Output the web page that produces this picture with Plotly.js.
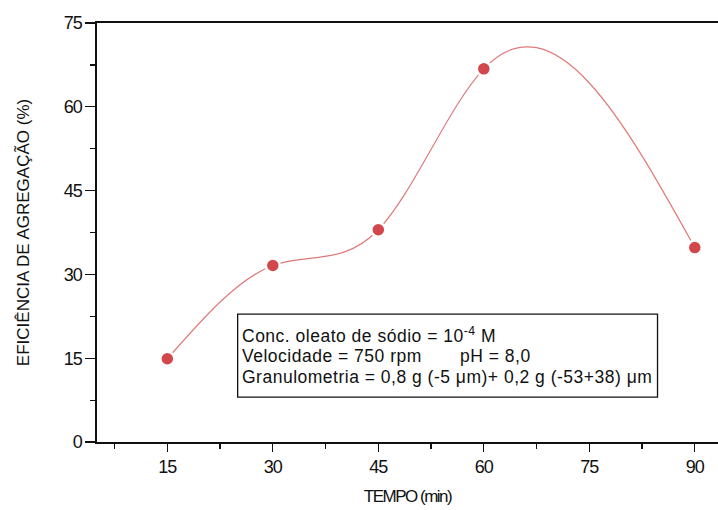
<!DOCTYPE html>
<html>
<head>
<meta charset="utf-8">
<script src="https://cdn.plot.ly/plotly-3.0.1.min.js"></script>
<style>
html,body{margin:0;padding:0;background:#fff;}
#chart{width:718px;height:510px;}
.xtick text, .ytick text {letter-spacing:-1px;}
.g-xtitle text {letter-spacing:-1.5px;}
.annotation-text {letter-spacing:0.5px;}
</style>
</head>
<body>
<div id="chart"></div>
<script>
const tempo = [15, 30, 45, 60, 90];
const eficiencia = [14.9, 31.6, 38.0, 66.8, 34.8];
const xTicks = [15, 30, 45, 60, 75, 90];
const yTicks = [0, 15, 30, 45, 60, 75];
const infoLines = [
  "Conc. oleato de sódio = 10<sup>-4</sup> M",
  "Velocidade = 750 rpm",
  "Granulometria = 0,8 g (-5 μm)+ 0,2 g (-53+38) μm"
];
const infoExtra = "pH = 8,0";

const FONT = "Liberation Sans, Arial, sans-serif";

// Natural cubic spline connection (as in the original plotting software),
// converted to exact cubic Bezier segments in data coordinates.
function splinePath(xs, ys) {
  const n = xs.length;
  const h = [], d = [];
  for (let i = 0; i < n - 1; i++) { h.push(xs[i+1] - xs[i]); d.push((ys[i+1] - ys[i]) / h[i]); }
  const M = new Array(n).fill(0);
  const m = n - 2;
  const a = [], b = [], c = [], r = [];
  for (let k = 0; k < m; k++) {
    const i = k + 1;
    a.push(h[i-1]); b.push(2 * (h[i-1] + h[i])); c.push(h[i]); r.push(6 * (d[i] - d[i-1]));
  }
  for (let k = 1; k < m; k++) { const w = a[k] / b[k-1]; b[k] -= w * c[k-1]; r[k] -= w * r[k-1]; }
  const sol = new Array(m);
  sol[m-1] = r[m-1] / b[m-1];
  for (let k = m - 2; k >= 0; k--) sol[k] = (r[k] - c[k] * sol[k+1]) / b[k];
  for (let k = 0; k < m; k++) M[k+1] = sol[k];
  let p = "M" + xs[0] + "," + ys[0];
  for (let i = 0; i < n - 1; i++) {
    const s0 = d[i] - h[i] * (2 * M[i] + M[i+1]) / 6;
    const s1 = d[i] + h[i] * (M[i] + 2 * M[i+1]) / 6;
    const c1x = xs[i] + h[i] / 3, c1y = ys[i] + s0 * h[i] / 3;
    const c2x = xs[i+1] - h[i] / 3, c2y = ys[i+1] - s1 * h[i] / 3;
    p += " C" + c1x + "," + c1y + " " + c2x + "," + c2y + " " + xs[i+1] + "," + ys[i+1];
  }
  return p;
}

const traces = [
  {
    x: tempo, y: eficiencia, type: "scatter", mode: "markers",
    marker: {size: 14, color: "#d2474b", line: {color: "#ffffff", width: 2.5}},
    showlegend: false
  }
];

const annotations = [];
const lineY = [19.2, 15.45, 11.7];
infoLines.forEach((t, i) => annotations.push({
  xref: "x", yref: "y", x: 25.3, y: lineY[i], xanchor: "left", yanchor: "middle",
  text: t, showarrow: false, font: {family: FONT, size: 17.5, color: "#111"}
}));
annotations.push({
  xref: "x", yref: "y", x: 56.3, y: lineY[1], xanchor: "left", yanchor: "middle",
  text: infoExtra, showarrow: false, font: {family: FONT, size: 17.5, color: "#111"}
});

const layout = {
  width: 718, height: 510,
  margin: {l: 97, r: 0, t: 23, b: 68},
  paper_bgcolor: "#fff", plot_bgcolor: "#fff",
  font: {family: FONT, size: 17, color: "#111"},
  xaxis: {
    range: [5, 93.3], tickvals: xTicks, ticktext: xTicks.map(String),
    showgrid: false, zeroline: false, showline: true, linecolor: "#111", linewidth: 1.6,
    mirror: true, ticks: "outside", ticklen: 8, tickwidth: 1.3, tickcolor: "#111",
    minor: {tickvals: [7.5, 22.5, 37.5, 52.5, 67.5, 82.5], ticks: "outside", ticklen: 5, tickwidth: 1.2, tickcolor: "#111"},
    tickfont: {family: FONT, size: 18, color: "#111"},
    title: {text: "TEMPO (min)", font: {family: FONT, size: 17, color: "#111"}, standoff: 14}
  },
  yaxis: {
    range: [0, 75], tickvals: yTicks, ticktext: yTicks.map(String),
    showgrid: false, zeroline: false, showline: true, linecolor: "#111", linewidth: 1.6,
    mirror: false, ticks: "outside", ticklen: 10, tickwidth: 1.3, tickcolor: "#111",
    minor: {tickvals: [7.5, 22.5, 37.5, 52.5, 67.5], ticks: "outside", ticklen: 5, tickwidth: 1.2, tickcolor: "#111"},
    tickfont: {family: FONT, size: 18, color: "#111"},
    title: {text: "EFICIÊNCIA DE AGREGAÇÃO (%)", font: {family: FONT, size: 17, color: "#111"}, standoff: 30}
  },
  shapes: [
    {
      type: "path", xref: "x", yref: "y", path: splinePath(tempo, eficiencia),
      line: {color: "#e07a7a", width: 1.2}, layer: "below"
    },
    {
      type: "rect", xref: "x", yref: "y", x0: 25.0, x1: 84.7, y0: 8.05, y1: 22.9,
      line: {color: "#111", width: 1.3}, fillcolor: "rgba(0,0,0,0)", layer: "above"
    }
  ],
  annotations: annotations
};

Plotly.newPlot("chart", traces, layout, {displayModeBar: false, staticPlot: true});
</script>
</body>
</html>
